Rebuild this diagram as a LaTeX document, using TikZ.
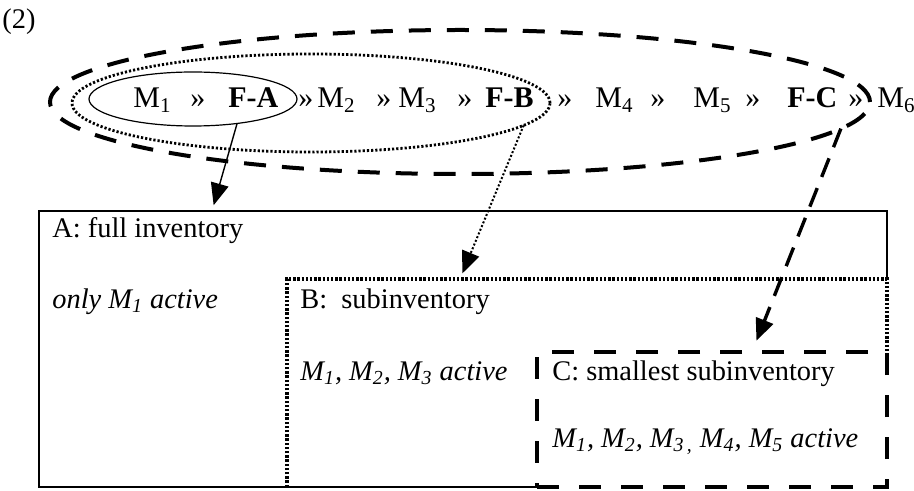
\documentclass[tikz,border=0pt]{standalone}
\usepackage{fontspec}
\setmainfont{Liberation Serif}
\usepackage{tikz}
\usetikzlibrary{positioning,arrows.meta,shapes.geometric,calc}

\begin{document}
\begin{tikzpicture}[
    x=0.5pt, y=-0.5pt,
    font=\fontsize{14.2}{17}\selectfont,
    seq/.style     ={anchor=base west, inner sep=0pt, font=\fontsize{15}{18}\selectfont},
    lbl/.style     ={anchor=base west, inner sep=0pt},
    set/.style     ={ellipse, inner sep=0pt, outer sep=0pt},
    frame/.style   ={inner sep=0pt, outer sep=0pt, anchor=north west},
    solidline/.style={line width=0.6pt},
    dotline/.style ={line width=1.6pt, dash pattern=on 1.2pt off 0.9pt},
    dashline/.style={line width=2.4pt, dash pattern=on 11pt off 10pt},
    arrow/.style   ={-{Triangle[length=11pt,width=9pt]}, shorten >=3pt}
]
\useasboundingbox (0,0) rectangle (914,491);

% --- label ---
\node[lbl] (num) at (2,29) {(2)};

% --- sets round the sequence ---
\node[set, draw, line width=0.6pt, minimum width=104pt, minimum height=27pt] (setA) at (193,99) {};
\node[set, draw, line width=1.4pt, dash pattern=on 1.1pt off 1pt,
      minimum width=239pt, minimum height=49pt] (setB) at (311,103) {};
\node[set, draw, line width=2pt, dash pattern=on 11pt off 8pt,
      minimum width=410pt, minimum height=72pt] (setC) at (460,102) {};

% --- sequence of modules ---
\foreach \x/\t [count=\i] in {133/M\textsubscript{1}, 190/», 228/\textbf{F-A}, 298/»,
    317/M\textsubscript{2}, 376/», 398/M\textsubscript{3}, 457/», 485/\textbf{F-B},
    557/», 595/M\textsubscript{4}, 650/», 693/M\textsubscript{5}, 745/»,
    787/\textbf{F-C}, 848/», 877/M\textsubscript{6}}
  \node[seq] (s\i) at (\x,108) {\t};

% --- inventories ---
\node[frame, minimum width=424pt, minimum height=138pt] (boxA) at (39,211) {};
\node[frame, minimum width=300pt, minimum height=104pt] (boxB) at (287,279) {};
\node[frame, minimum width=175pt, minimum height=67.5pt, draw, dashline] (boxC) at (537,352) {};

\draw[solidline] (boxB.north east) -- (boxA.north east) -- (boxA.north west)
    -- (boxA.south west) -- (boxC.south west);
\draw[dotline] (boxB.south west) -- (boxB.north west) -- (boxB.north east) -- (boxC.north east);

\node[lbl] (nameA) at (52,238) {A: full inventory};
\node[lbl] (actA)  at (52,308) {\textit{only M\textsubscript{1} active}};
\node[lbl] (nameB) at (300,308) {B:\ \ subinventory};
\node[lbl] (actB)  at (300,380) {\textit{M\textsubscript{1}, M\textsubscript{2}, M\textsubscript{3} active}};
\node[lbl] (nameC) at (552,380) {C: smallest subinventory};
\node[lbl] (actC)  at (552,447) {\textit{M\textsubscript{1}, M\textsubscript{2}, M\textsubscript{3\,,} M\textsubscript{4}, M\textsubscript{5} active}};

% --- arrows down ---
\coordinate (tipA) at (212,211);
\coordinate (tipB) at (460,279);
\coordinate (tipC) at (752,352);
\draw[arrow, line width=0.7pt] (setA.-29) -- (tipA);
\draw[arrow, line width=1pt, dash pattern=on 1pt off 1pt] (setB.-6.5) -- (tipB);
\draw[arrow, line width=1.7pt, dash pattern=on 10pt off 6pt, shorten >=6pt] (setC.-4.8) -- (tipC);

\end{tikzpicture}
\end{document}
